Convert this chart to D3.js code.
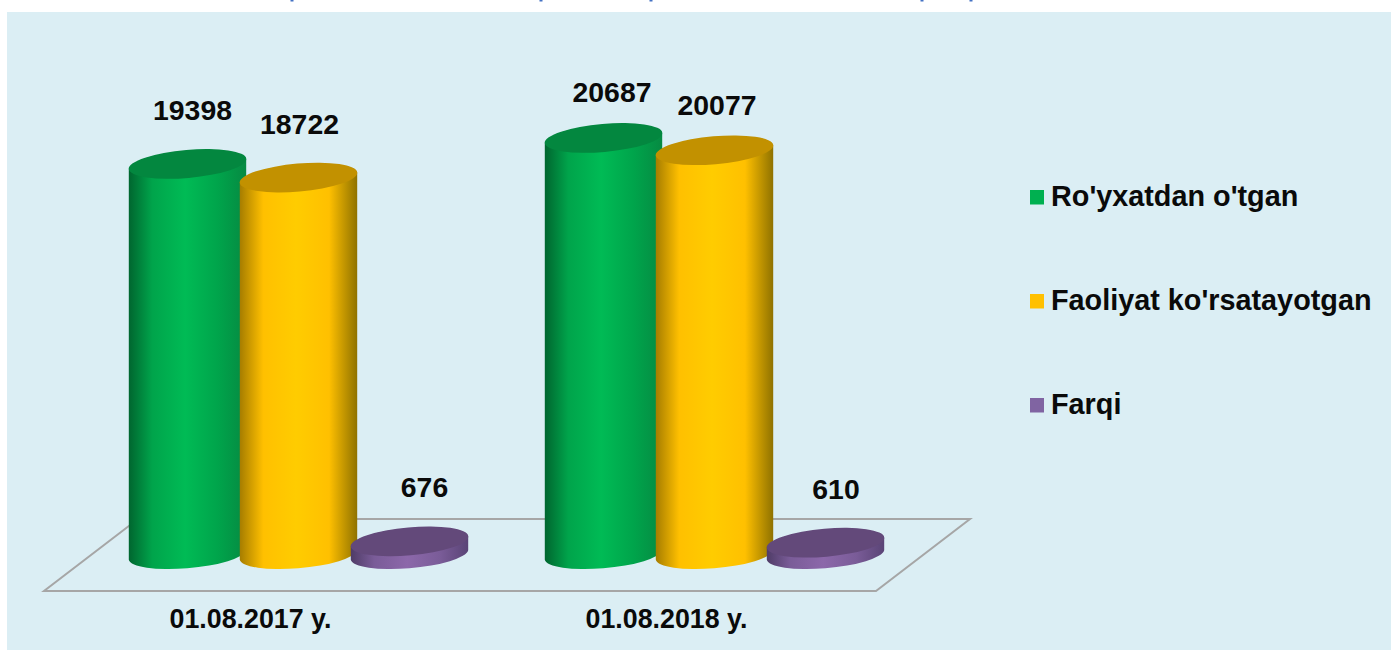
<!DOCTYPE html>
<html>
<head>
<meta charset="utf-8">
<script src="https://cdn.jsdelivr.net/npm/d3@7"></script>
<style>
  html, body { margin: 0; padding: 0; background: #fff; overflow: hidden; }
  text { font-family: "Liberation Sans", Arial, sans-serif; font-weight: bold; fill: #0a0a0a; }
</style>
</head>
<body>
<svg id="chart" width="1391" height="650"></svg>
<script>
const categories = ["01.08.2017 y.", "01.08.2018 y."];
const seriesNames = ["Ro'yxatdan o'tgan", "Faoliyat ko'rsatayotgan", "Farqi"];
const registered = [19398, 20687];
const active = [18722, 20077];
const difference = [676, 610];
const seriesValues = [registered, active, difference];

const legendColors = ["#00b050", "#ffc000", "#8064a2"];
const cylinderColors = [
  { edge: "#00662f", base: "#00a44b", mid: "#00bb55", edge2: "#068a42", top: "#03873f" },
  { edge: "#a67d00", base: "#ffc000", mid: "#ffcc00", edge2: "#8f7200", top: "#c29100" },
  { edge: "#4f3c67", base: "#7a5c98", mid: "#8c68aa", edge2: "#5a4476", top: "#63497a" }
];

// moves of the value labels away from their cylinder, by category then series
const labelShiftX = [[5, 1, 15], [8.5, 2.5, 10.5]];
const labelShiftY = [[-44, -44, -44], [-36, -35, -44]];

const svg = d3.select("#chart");

// panel
svg.append("rect")
  .attr("x", 7).attr("y", 12)
  .attr("width", 1384).attr("height", 638)
  .attr("fill", "#dbeef4");

// bottom ends of the title that is cut off by the picture edge
[292, 541, 651, 922, 971].forEach(px => {
  svg.append("rect")
    .attr("x", px - 1.5).attr("y", 0)
    .attr("width", 3).attr("height", 1.5)
    .attr("fill", "#4472c4");
});

const x0 = d3.scalePoint().domain(categories).range([299, 715]);
const x1 = d3.scalePoint().domain(seriesNames).range([-111, 111]);
const y = d3.scaleLinear().domain([0, 25000]).range([555, 51]);

// floor
svg.append("path")
  .attr("d", d3.line()([[138, 519], [970, 519], [876, 591], [44, 591], [138, 519]]))
  .attr("fill", "none")
  .attr("stroke", "#a6a6a6")
  .attr("stroke-width", 2);

// gradients
const defs = svg.append("defs");
cylinderColors.forEach((c, i) => {
  const g = defs.append("linearGradient").attr("id", "cyl" + i);
  g.append("stop").attr("offset", "0%").attr("stop-color", c.edge);
  g.append("stop").attr("offset", "20%").attr("stop-color", c.base);
  g.append("stop").attr("offset", "48%").attr("stop-color", c.mid);
  g.append("stop").attr("offset", "76%").attr("stop-color", c.base);
  g.append("stop").attr("offset", "100%").attr("stop-color", c.edge2);
});

// ellipse shape of the cylinder ends
const rx = 59, ry = 14, tilt = -5;
const xe = 58.7, ye = 4.8;

function sidePath(cx, yTop, yBase) {
  return `M${cx - xe},${yTop + ye} L${cx - xe},${yBase + ye}` +
    ` A${rx},${ry} ${tilt} 0 0 ${cx + xe},${yBase - ye}` +
    ` L${cx + xe},${yTop - ye}` +
    ` A${rx},${ry} ${tilt} 0 0 ${cx - xe},${yTop + ye} Z`;
}

categories.forEach((cat, ci) => {
  seriesNames.forEach((name, si) => {
    const v = seriesValues[si][ci];
    const cx = x0(cat) + x1(name) - 0.5;
    svg.append("path")
      .attr("d", sidePath(cx, y(v), y(0)))
      .attr("fill", `url(#cyl${si})`);
    svg.append("ellipse")
      .attr("rx", rx).attr("ry", ry)
      .attr("transform", `translate(${cx},${y(v)}) rotate(${tilt})`)
      .attr("fill", cylinderColors[si].top);
    svg.append("text")
      .attr("x", cx + labelShiftX[ci][si])
      .attr("y", y(v) + labelShiftY[ci][si])
      .attr("text-anchor", "middle")
      .attr("font-size", 28.4)
      .text(v);
  });
  svg.append("text")
    .attr("x", x0(cat) - 48.5)
    .attr("y", 628)
    .attr("text-anchor", "middle")
    .attr("font-size", 26.8)
    .text(cat);
});

// legend
const legendY = d3.scalePoint().domain(seriesNames).range([197, 405]);
seriesNames.forEach((name, i) => {
  svg.append("rect")
    .attr("x", 1030).attr("y", legendY(name) - 7)
    .attr("width", 14).attr("height", 14.5)
    .attr("fill", legendColors[i]);
  svg.append("text")
    .attr("x", 1051).attr("y", legendY(name) + 9)
    .attr("font-size", 28.8)
    .text(name);
});
</script>
</body>
</html>
